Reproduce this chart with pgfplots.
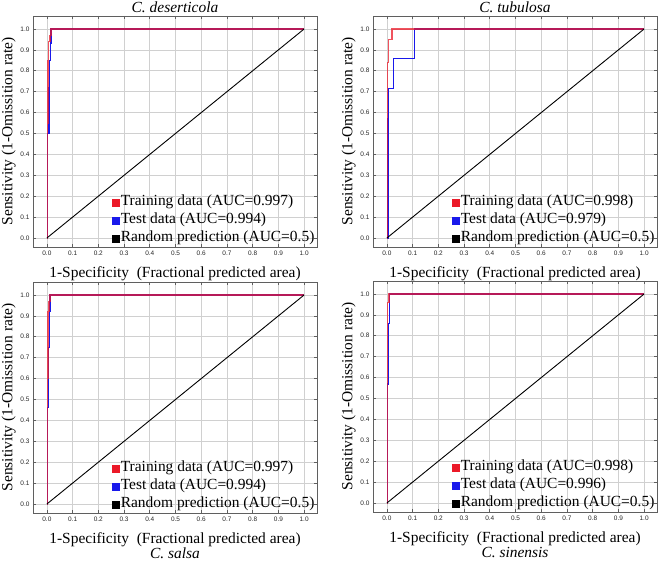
\documentclass[border=0pt]{standalone}
\usepackage{fontspec}
\setmainfont{Liberation Serif}
\newfontfamily\ticksf{Liberation Sans}
\usepackage{pgfplots}
\pgfplotsset{compat=1.18}

\definecolor{trainred}{RGB}{235,25,40}
\definecolor{testblue}{RGB}{25,25,235}
\definecolor{gridgray}{RGB}{208,208,208}
\definecolor{framegray}{RGB}{95,95,95}

\pgfplotsset{
  roc/.style={
    scale only axis, width=284bp, height=231bp,
    xmin=-0.054, xmax=1.05, ymin=-0.043, ymax=1.062,
    xtick={0,0.1,0.2,0.3,0.4,0.5,0.6,0.7,0.8,0.9,1},
    ytick={0,0.1,0.2,0.3,0.4,0.5,0.6,0.7,0.8,0.9,1},
    grid=major, major grid style={gridgray, line width=0.6bp},
    axis line style={framegray, line width=0.8bp},
    tick style={framegray, line width=0.6bp}, major tick length=3bp,
    tick label style={font=\ticksf\fontsize{6.5}{7}\selectfont, text=black!85},
    /pgf/number format/.cd, fixed, fixed zerofill, precision=1, assume math mode=true, /pgfplots/.cd,
    label style={font=\fontsize{15.5}{15.5}\selectfont},
    xlabel={1-Specificity~~(Fractional predicted area)},
    ylabel={Sensitivity (1-Omissition rate)},
    xlabel style={align=center, yshift=-5bp},
    ylabel style={yshift=-2bp},
    title style={font=\itshape\fontsize{15.5}{17}\selectfont, yshift=-6bp},
    legend style={at={(rel axis cs:0.995,0.0)}, anchor=south east, draw=none, fill=none,
      font=\fontsize{15.5}{17}\selectfont, inner sep=0pt, row sep=1bp,
      nodes={inner sep=1bp, text height=11bp, text depth=4bp}},
    legend cell align=left,
    legend image code/.code={\fill[#1] (0bp,-3.5bp) rectangle (7bp,3.5bp);},
  },
  testc/.style={color=testblue, line width=1.3bp},
  trainc/.style={color=trainred, line width=1.3bp, draw opacity=0.75},
  randc/.style={color=black, line width=0.9bp},
}

\begin{document}
\begin{tikzpicture}
\path[use as bounding box] (0,0) rectangle (658bp,564bp);

% C. deserticola
\begin{axis}[roc, at={(33bp,317bp)}, anchor=south west, title={C. deserticola}]
\addplot[testc, forget plot] coordinates {(0,0)(0.003,0)(0.003,0.5)(0.008,0.5)(0.008,0.72)(0.009,0.72)(0.009,0.85)(0.013,0.85)(0.013,0.93)(0.016,0.93)(0.016,1)(1,1)};
\addplot[trainc, forget plot] coordinates {(0,0)(0.002,0)(0.002,0.55)(0.004,0.55)(0.004,0.85)(0.007,0.85)(0.007,0.94)(0.012,0.94)(0.012,0.97)(0.016,0.97)(0.016,1)(1,1)};
\addplot[randc, forget plot] coordinates {(0,0)(1,1)};
\addlegendimage{color=trainred}\addlegendentry{Training data (AUC=0.997)}
\addlegendimage{color=testblue}\addlegendentry{Test data (AUC=0.994)}
\addlegendimage{color=black}\addlegendentry{Random prediction (AUC=0.5)}
\end{axis}

% C. tubulosa
\begin{axis}[roc, at={(373bp,317bp)}, anchor=south west, title={C. tubulosa}]
\addplot[testc, forget plot] coordinates {(0,0)(0.004,0)(0.004,0.571)(0.005,0.571)(0.005,0.714)(0.027,0.714)(0.027,0.857)(0.108,0.857)(0.108,1)(1,1)};
\addplot[trainc, forget plot] coordinates {(0,0)(0.003,0)(0.003,0.84)(0.005,0.84)(0.005,0.9)(0.007,0.9)(0.007,0.95)(0.02,0.95)(0.02,1)(1,1)};
\addplot[randc, forget plot] coordinates {(0,0)(1,1)};
\addlegendimage{color=trainred}\addlegendentry{Training data (AUC=0.998)}
\addlegendimage{color=testblue}\addlegendentry{Test data (AUC=0.979)}
\addlegendimage{color=black}\addlegendentry{Random prediction (AUC=0.5)}
\end{axis}

% C. salsa
\begin{axis}[roc, at={(33bp,51bp)}, anchor=south west,
  xlabel={1-Specificity~~(Fractional predicted area)\\[-1bp]\textit{C. salsa}}]
\addplot[testc, forget plot] coordinates {(0,0)(0.002,0)(0.002,0.46)(0.006,0.46)(0.006,0.75)(0.009,0.75)(0.009,0.92)(0.012,0.92)(0.012,1)(1,1)};
\addplot[trainc, forget plot] coordinates {(0,0)(0.002,0)(0.002,0.6)(0.004,0.6)(0.004,0.92)(0.008,0.92)(0.008,0.97)(0.012,0.97)(0.012,1)(1,1)};
\addplot[randc, forget plot] coordinates {(0,0)(1,1)};
\addlegendimage{color=trainred}\addlegendentry{Training data (AUC=0.997)}
\addlegendimage{color=testblue}\addlegendentry{Test data (AUC=0.994)}
\addlegendimage{color=black}\addlegendentry{Random prediction (AUC=0.5)}
\end{axis}

% C. sinensis
\begin{axis}[roc, at={(373bp,52bp)}, anchor=south west,
  xlabel={1-Specificity~~(Fractional predicted area)\\[-1bp]\textit{C. sinensis}}]
\addplot[testc, forget plot] coordinates {(0,0)(0.003,0)(0.003,0.57)(0.006,0.57)(0.006,0.86)(0.009,0.86)(0.009,1)(1,1)};
\addplot[trainc, forget plot] coordinates {(0,0)(0.002,0)(0.002,0.96)(0.008,0.96)(0.008,1)(1,1)};
\addplot[randc, forget plot] coordinates {(0,0)(1,1)};
\addlegendimage{color=trainred}\addlegendentry{Training data (AUC=0.998)}
\addlegendimage{color=testblue}\addlegendentry{Test data (AUC=0.996)}
\addlegendimage{color=black}\addlegendentry{Random prediction (AUC=0.5)}
\end{axis}
\end{tikzpicture}
\end{document}
